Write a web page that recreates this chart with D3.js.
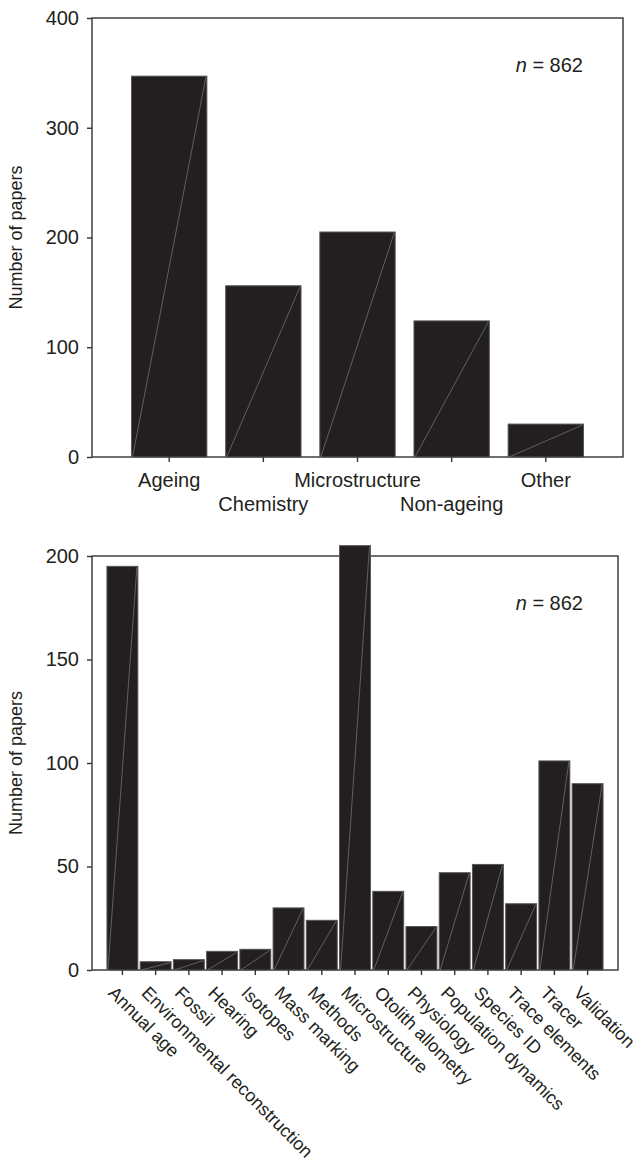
<!DOCTYPE html>
<html>
<head>
<meta charset="utf-8">
<script src="https://cdn.jsdelivr.net/npm/d3@7"></script>
<style>
  body { margin: 0; background: #fff; }
  text { font-family: "Liberation Sans", Arial, sans-serif; fill: #231f20; }
</style>
</head>
<body>
<svg id="chart" width="643" height="1164"></svg>
<script>

  // top panel: broad groups
  var groups = ["Ageing", "Chemistry", "Microstructure", "Non-ageing", "Other"];
  var groupCounts = [347, 156, 205, 124, 30];
  var groupTicks = [0, 100, 200, 300, 400];

  // bottom panel: topics
  var topics = ["Annual age", "Environmental reconstruction", "Fossil", "Hearing", "Isotopes",
    "Mass marking", "Methods", "Microstructure", "Otolith allometry", "Physiology",
    "Population dynamics", "Species ID", "Trace elements", "Tracer", "Validation"];
  var topicCounts = [195, 4, 5, 9, 10, 30, 24, 205, 38, 21, 47, 51, 32, 101, 90];
  var topicTicks = [0, 50, 100, 150, 200];

  var nLabel = "862";
  var barFill = "#231f20";
  var axisColor = "#333";

  var svg = d3.select("#chart");

  var drawPanel = function (o) {
    var x = d3.scaleBand()
      .domain(o.cats)
      .range([o.left, o.right])
      .paddingInner(o.padIn)
      .paddingOuter(o.padOut);

    var y = d3.scaleLinear()
      .domain([0, o.ymax])
      .range([o.bottom, o.top]);

    var g = svg.append("g");

    // frame
    g.append("rect")
      .attr("x", o.left)
      .attr("y", o.top)
      .attr("width", o.right - o.left)
      .attr("height", o.bottom - o.top)
      .attr("fill", "none")
      .attr("stroke", axisColor)
      .attr("stroke-width", 1.4);

    var data = o.cats.map(function (c, i) { return { cat: c, v: o.vals[i] }; });

    g.selectAll("rect.bar")
      .data(data)
      .enter()
      .append("rect")
        .attr("class", "bar")
        .attr("x", function (d) { return x(d.cat); })
        .attr("y", function (d) { return y(d.v); })
        .attr("width", x.bandwidth())
        .attr("height", function (d) { return y(0) - y(d.v); })
        .attr("fill", barFill)
        .attr("stroke", "#555")
        .attr("stroke-width", 1);

    // the faint diagonal seen in every bar
    g.selectAll("line.diag")
      .data(data)
      .enter()
      .append("line")
        .attr("class", "diag")
        .attr("x1", function (d) { return x(d.cat) + 1; })
        .attr("y1", y(0))
        .attr("x2", function (d) { return x(d.cat) + x.bandwidth() - 1; })
        .attr("y2", function (d) { return y(d.v) + 1; })
        .attr("stroke", "#8a8a8a")
        .attr("stroke-width", 0.6);

    var yAxis = g.append("g")
      .attr("transform", "translate(" + o.left + ",0)")
      .call(d3.axisLeft(y).tickValues(o.ticks).tickSize(5).tickPadding(8));
    yAxis.select(".domain").remove();
    yAxis.selectAll("line").attr("stroke", axisColor).attr("stroke-width", 1.4);
    yAxis.selectAll("text").attr("font-size", 20).attr("fill", "#231f20");

    var xAxis = g.append("g")
      .attr("transform", "translate(0," + o.bottom + ")")
      .call(d3.axisBottom(x).tickSize(5));
    xAxis.select(".domain").remove();
    xAxis.selectAll("line").attr("stroke", axisColor).attr("stroke-width", 1.4);
    o.labels(xAxis.selectAll("text"));

    g.append("text")
      .attr("transform", "translate(22," + ((o.top + o.bottom) / 2) + ") rotate(-90)")
      .attr("text-anchor", "middle")
      .attr("font-size", 18)
      .text("Number of papers");

    var nt = g.append("text")
      .attr("x", 583)
      .attr("y", o.top + 54)
      .attr("text-anchor", "end")
      .attr("font-size", 20);
    nt.append("tspan").attr("font-style", "italic").text("n");
    nt.append("tspan").text(" = " + nLabel);
  };

  drawPanel({
    cats: groups, vals: groupCounts, ticks: groupTicks, ymax: 400,
    left: 92, right: 623, top: 18, bottom: 457,
    padIn: 0.2, padOut: 0.42,
    labels: function (t) {
      t.attr("font-size", 20)
        .attr("fill", "#231f20")
        .attr("y", function (d, i) { return i % 2 ? 40 : 16; });
    }
  });

  drawPanel({
    cats: topics, vals: topicCounts, ticks: topicTicks, ymax: 200,
    left: 92, right: 618, top: 556, bottom: 970,
    padIn: 0.07, padOut: 0.45,
    labels: function (t) {
      t.attr("font-size", 18)
        .attr("fill", "#231f20")
        .attr("text-anchor", "start")
        .attr("x", 0)
        .attr("y", 0)
        .attr("dy", "0.71em")
        .attr("transform", "translate(-6,15) rotate(45)");
    }
  });

</script>
</body>
</html>
